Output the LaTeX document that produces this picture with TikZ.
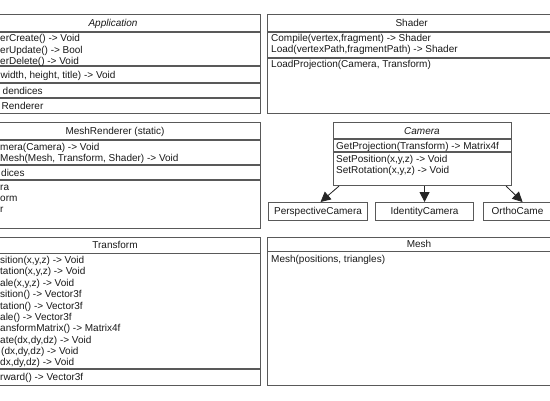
\documentclass[tikz,border=0pt]{standalone}
\usepackage{fontspec}
\setmainfont{Liberation Sans}
\usetikzlibrary{arrows.meta,calc}
\begin{document}
\begin{tikzpicture}[x=1pt,y=-1pt,
  box/.style={draw=black!65, line width=1.1pt, fill=white, inner sep=0pt, anchor=north west},
  sep/.style={draw=black!65, line width=1.1pt},
  txt/.style={anchor=base west, inner sep=0pt, text=black!90},
  ttl/.style={anchor=base, inner sep=0pt, text=black!90},
  ital/.style={font=\fontsize{10}{11.3}\selectfont\itshape},
  arr/.style={-{Triangle[length=10pt,width=10pt]}, line width=0.8pt, draw=black!85, fill=black},
  font=\fontsize{10}{11.3}\selectfont]

\useasboundingbox (0,0) rectangle (550,400);
\clip (0,0) rectangle (550,400);
\fill[white] (0,0) rectangle (550,400);

% Application
\node[box, minimum width=294pt, minimum height=99pt] (app) at (-34,14) {};
\foreach \y in {32,66,83,98} \draw[sep] (-34,\y) -- (260,\y);
\node[ttl, ital] (appt) at (113,26.6) {Application};
\node[txt] (a1) at (0,41.8) {erCreate() -> Void};
\node[txt] (a2) at (0,53.1) {erUpdate() -> Bool};
\node[txt] (a3) at (0,64.3) {erDelete() -> Void};
\node[txt] (a4) at (0.5,78) {width, height, title) -> Void};
\node[txt] (a5) at (2.5,94) {dendices};
\node[txt] (a6) at (1.5,109) {Renderer};

% Shader
\node[box, minimum width=289pt, minimum height=99pt] (shader) at (267,14) {};
\foreach \y in {32,58} \draw[sep] (267,\y) -- (556,\y);
\node[ttl] (shadert) at (411.7,26.6) {Shader};
\node[txt] (s1) at (271,41.5) {Compile(vertex,fragment) -> Shader};
\node[txt] (s2) at (271,52.8) {Load(vertexPath,fragmentPath) -> Shader};
\node[txt] (s3) at (271,67.8) {LoadProjection(Camera, Transform)};

% MeshRenderer
\node[box, minimum width=290pt, minimum height=106pt] (mr) at (-30,122) {};
\foreach \y in {140,165,180} \draw[sep] (-30,\y) -- (260,\y);
\node[ttl] (mrt) at (115,134.6) {MeshRenderer (static)};
\node[txt] (m1) at (0,150.5) {mera(Camera) -> Void};
\node[txt] (m2) at (0,161.8) {Mesh(Mesh, Transform, Shader) -> Void};
\node[txt] (m3) at (1,176) {dices};
\node[txt] (m4) at (0,190) {ra};
\node[txt] (m5) at (0,201) {orm};
\node[txt] (m6) at (0,212) {r};

% Camera
\node[box, minimum width=178pt, minimum height=63pt] (camera) at (333,122) {};
\foreach \y in {139,152} \draw[sep] (333,\y) -- (511,\y);
\node[ttl, ital] (camt) at (422,134) {Camera};
\node[txt] (c1) at (336,149) {GetProjection(Transform) -> Matrix4f};
\node[txt] (c2) at (336,162.5) {SetPosition(x,y,z) -> Void};
\node[txt] (c3) at (336,173.8) {SetRotation(x,y,z) -> Void};

\node[box, minimum width=99pt, minimum height=18pt, text=black!90] (persp) at (268,202) {PerspectiveCamera};
\node[box, minimum width=98pt, minimum height=18pt, text=black!90] (ident) at (375,202) {IdentityCamera};
\node[box, minimum width=78pt, minimum height=18pt] (ortho) at (483,202) {};
\node[txt] (orthot) at (491.5,214.6) {OrthoCame};

\draw[arr] ([xshift=6pt]camera.south west) -- ([xshift=2.5pt]persp.north);
\draw[arr] (camera.south -| ident.north) -- (ident.north);
\draw[arr] ([xshift=-6pt]camera.south east) -- (ortho.north);

% Transform
\node[box, minimum width=290pt, minimum height=148.3pt] (tr) at (-30,236.7) {};
\foreach \y in {253.3,369} \draw[sep] (-30,\y) -- (260,\y);
\node[ttl] (trt) at (115,248.6) {Transform};
\foreach \t [count=\i from 0] in {sition(x{,}y{,}z) -> Void, tation(x{,}y{,}z) -> Void, ale(x{,}y{,}z) -> Void, sition() -> Vector3f, tation() -> Vector3f, ale() -> Vector3f, ansformMatrix() -> Matrix4f, ate(dx{,}dy{,}dz) -> Void}
  \node[txt] (t\i) at (0,263.6+\i*11.35) {\t};
\node[txt] (t8) at (1,263.6+8*11.35) {(dx,dy,dz) -> Void};
\node[txt] (t9) at (0,263.6+9*11.35) {dx,dy,dz) -> Void};
\node[txt] (t10) at (0,380.8) {rward() -> Vector3f};

% Mesh
\node[box, minimum width=304pt, minimum height=148.3pt] (mesh) at (267,236.7) {};
\draw[sep] (267,251.7) -- (571,251.7);
\node[ttl] (mesht) at (419,247.6) {Mesh};
\node[txt] (me1) at (271,262.5) {Mesh(positions, triangles)};
\end{tikzpicture}
\end{document}
